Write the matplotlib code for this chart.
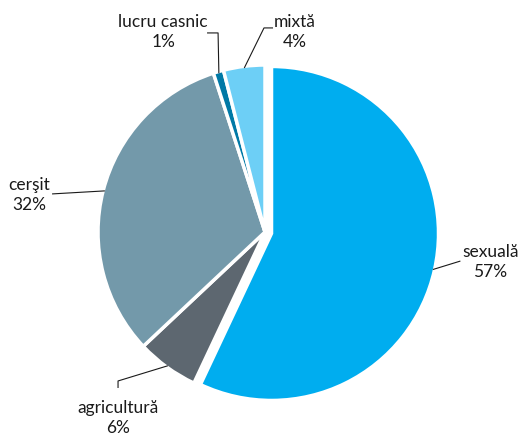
import numpy as np
import matplotlib
matplotlib.use("Agg")
import matplotlib.pyplot as plt

# data
labels = ["sexuală", "agricultură", "cerşit", "lucru casnic", "mixtă"]
values = [57, 6, 32, 1, 4]
colors = ["#00ADEF", "#5D6770", "#7399AA", "#0079A6", "#6DCFF6"]
explode = [0.04, 0, 0, 0, 0]

# label text centres and leader elbow points (data units, radius = 1)
label_pos = [(1.35, -0.18), (-0.88, -1.115), (-1.41, 0.22), (-0.61, 1.20), (0.18, 1.20)]
elbows = [
    [(1.17, -0.174)],
    [(-0.88, -0.892), (-0.88, -0.934)],
    [(-1.275, 0.228)],
    [(-0.281, 1.192), (-0.347, 1.192)],
    [(-0.006, 1.222), (0.048, 1.222)],
]

plt.rcParams["font.family"] = ["Lato", "DejaVu Sans"]

fig = plt.figure(figsize=(5.2, 4.36), dpi=100)
ax = fig.add_axes([0, 0, 1, 1])
ax.axis("off")

wedges, _ = ax.pie(values, colors=colors, explode=explode, startangle=90,
                   counterclock=False, radius=1,
                   wedgeprops=dict(edgecolor="white", linewidth=2.5))

scale = 167.0
ax.set_xlim(-265 / scale, (520 - 265) / scale)
ax.set_ylim(-(436 - 232) / scale, 232 / scale)

for w, lab, val, pos, elb, ex in zip(wedges, labels, values, label_pos, elbows, explode):
    mid = np.deg2rad((w.theta1 + w.theta2) / 2)
    sx = np.cos(mid) * (1 + ex) - 0.01 * np.cos(mid)
    sy = np.sin(mid) * (1 + ex) - 0.01 * np.sin(mid)
    xs = [sx] + [p[0] for p in elb]
    ys = [sy] + [p[1] for p in elb]
    ax.plot(xs, ys, color="#1a1a1a", lw=0.8, solid_capstyle="butt")
    ax.text(pos[0], pos[1], f"{lab}\n{val}%", ha="center", va="center",
            fontsize=12.5, color="#1a1a1a", linespacing=1.3)

fig.savefig("out.png", dpi=100)
